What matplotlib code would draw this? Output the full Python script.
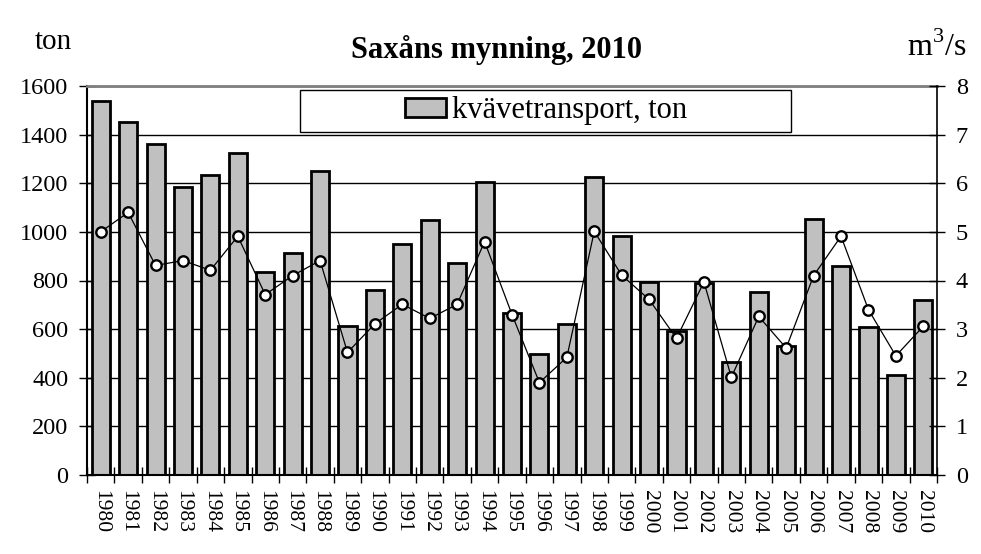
import matplotlib
matplotlib.use("Agg")
import matplotlib.pyplot as plt
from matplotlib.patches import Rectangle
import numpy as np

plt.rcParams["font.family"] = ["Liberation Serif", "DejaVu Serif"]
plt.rcParams["mathtext.fontset"] = "custom"
plt.rcParams["mathtext.rm"] = "Liberation Serif"

YEARS = list(range(1980, 2011))
# kvävetransport, ton (left axis)
NITROGEN_TON = [1540, 1453, 1362, 1185, 1234, 1325, 837, 913, 1251, 612,
                760, 950, 1049, 871, 1204, 665, 496, 620, 1225, 983,
                795, 591, 789, 463, 752, 529, 1052, 858, 607, 410, 719]
# vattenföring, m3/s (right axis)
FLOW_M3S = [5.00, 5.40, 4.31, 4.41, 4.21, 4.91, 3.71, 4.10, 4.41, 2.52,
            3.11, 3.51, 3.22, 3.51, 4.80, 3.30, 1.90, 2.42, 5.01, 4.11,
            3.61, 2.81, 3.97, 2.01, 3.26, 2.61, 4.10, 4.91, 3.40, 2.45, 3.06]

TON_TICKS = list(range(0, 1601, 200))
FLOW_TICKS = list(range(0, 9))

fig = plt.figure(figsize=(9.81, 5.54), dpi=100)
ax = fig.add_axes([87 / 981, 1 - 475 / 554, 850 / 981, 389 / 554])

x = np.arange(len(YEARS))
bars = ax.bar(x, NITROGEN_TON, width=0.66, color="#c0c0c0",
              edgecolor="black", linewidth=2, label="kvävetransport, ton",
              zorder=2)

ax.set_xlim(-0.5, len(YEARS) - 0.5)
ax.set_ylim(0, 1600)
ax.set_yticks(TON_TICKS)
ax.set_axisbelow(True)
ax.yaxis.grid(True, color="black", lw=1)
ax.set_xticks(x)
ax.set_xticklabels([str(y) for y in YEARS], rotation=270, fontsize=15.5)
ax.set_xticks(np.arange(-0.5, len(YEARS)), minor=True)
ax.tick_params(axis="x", which="major", length=0, pad=11)
ax.tick_params(axis="x", which="minor", direction="inout", length=11, width=1)
ax.tick_params(axis="y", direction="inout", length=11, width=1,
               labelsize=17.5, pad=8)

for side in ("left", "bottom"):
    ax.spines[side].set_color("black")
    ax.spines[side].set_linewidth(1.5)
ax.spines["top"].set_color("#808080")
ax.spines["top"].set_linewidth(2)
ax.spines["right"].set_visible(False)

ax2 = ax.twinx()
ax2.plot(x, FLOW_M3S, color="black", lw=0.9, marker="o", ms=7.5,
         mfc="white", mec="black", mew=1.7, zorder=3)
ax2.set_ylim(0, 8)
ax2.set_yticks(FLOW_TICKS)
ax2.tick_params(axis="y", direction="inout", length=11, width=1,
                labelsize=17.5, pad=8)
for side in ("left", "top", "bottom"):
    ax2.spines[side].set_visible(False)
ax2.spines["right"].set_color("black")
ax2.spines["right"].set_linewidth(1.2)

# legend box
ax.add_patch(Rectangle((0.2506, 0.882), 0.578, 0.108, transform=ax.transAxes,
                       facecolor="white", edgecolor="black", lw=1, zorder=5))
leg = ax.legend(handles=[bars], loc="center", bbox_to_anchor=(0.54, 0.936),
                frameon=False, fontsize=22, handlelength=1.35,
                handleheight=0.55, handletextpad=0.2, borderpad=0)
leg.set_zorder(6)

fig.text(497 / 981, 1 - 50 / 554, "Saxåns mynning, 2010", ha="center",
         va="center", fontsize=22, fontweight="bold")
fig.text(35 / 981, 1 - 42 / 554, "ton", ha="left", va="center", fontsize=21)
fig.text(966 / 981, 1 - 47 / 554, r"m$^{3}$/s", ha="right", va="center",
         fontsize=23)

fig.savefig("out.png", dpi=100)
